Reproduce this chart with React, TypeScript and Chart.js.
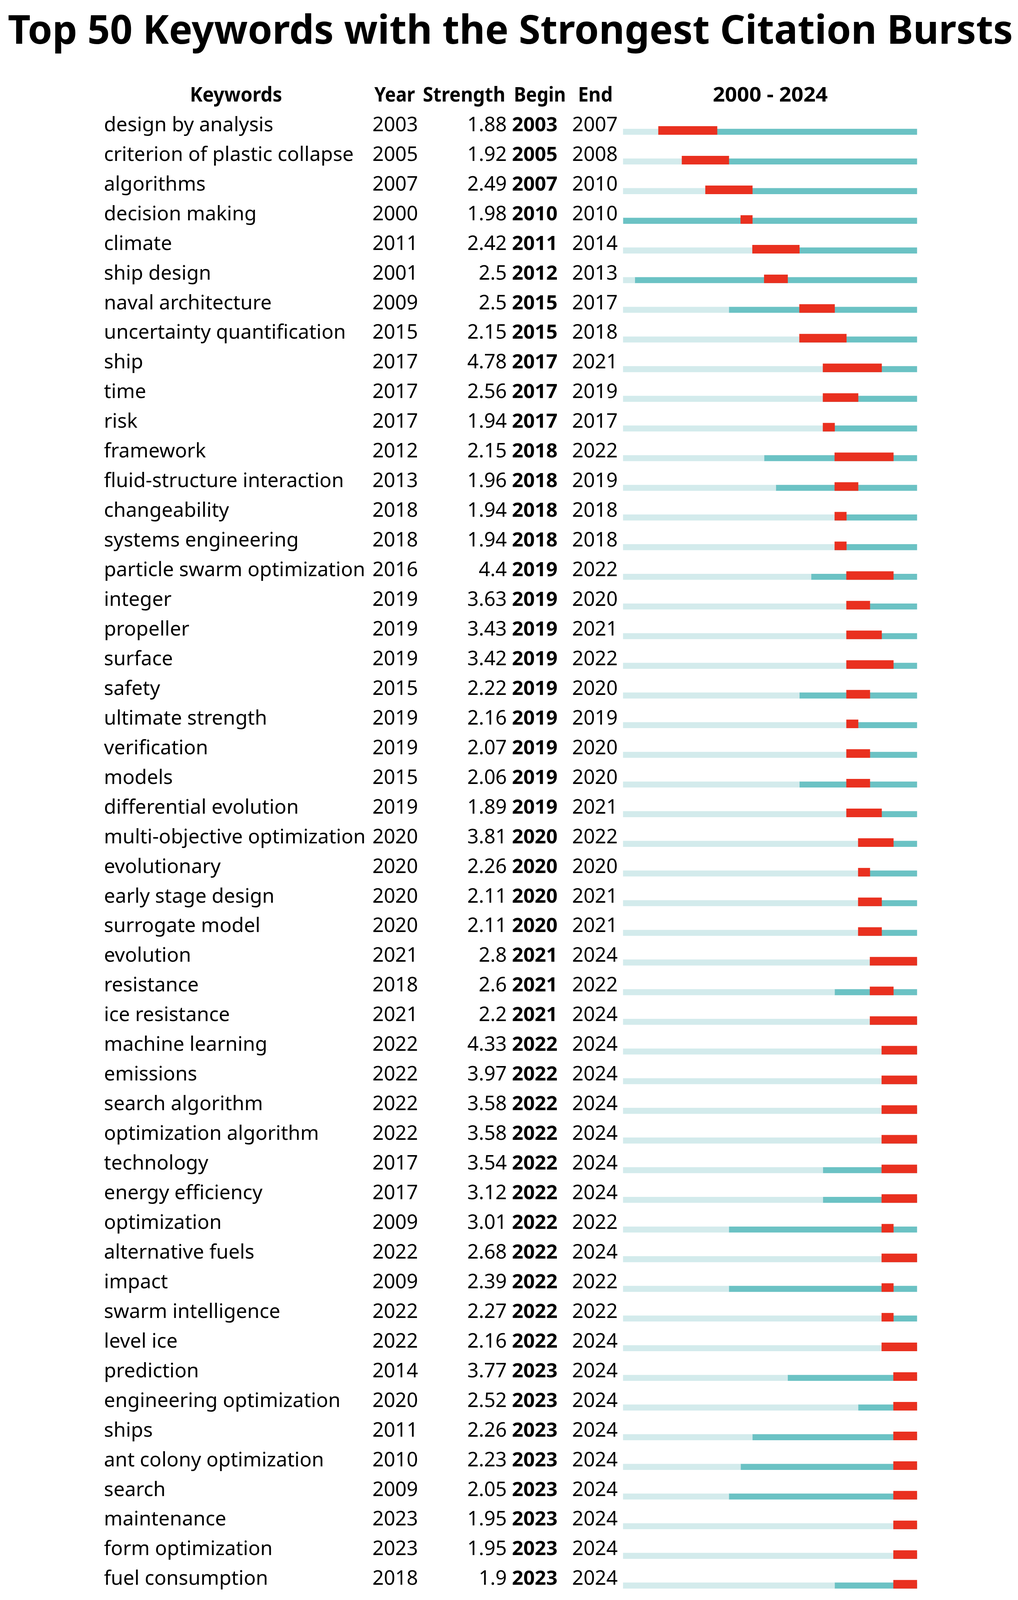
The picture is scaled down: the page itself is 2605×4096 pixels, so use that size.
import React, { useEffect, useRef } from "react";
import { Chart, registerables } from "chart.js";
Chart.register(...registerables);

const TITLE = "Top 50 Keywords with the Strongest Citation Bursts";
const HEADERS = ["Keywords", "Year", "Strength", "Begin", "End", "2000 - 2024"];
const YEAR_MIN = 2000;
const YEAR_MAX = 2024;

const keywords = [
  "design by analysis",
  "criterion of plastic collapse",
  "algorithms",
  "decision making",
  "climate",
  "ship design",
  "naval architecture",
  "uncertainty quantification",
  "ship",
  "time",
  "risk",
  "framework",
  "fluid-structure interaction",
  "changeability",
  "systems engineering",
  "particle swarm optimization",
  "integer",
  "propeller",
  "surface",
  "safety",
  "ultimate strength",
  "verification",
  "models",
  "differential evolution",
  "multi-objective optimization",
  "evolutionary",
  "early stage design",
  "surrogate model",
  "evolution",
  "resistance",
  "ice resistance",
  "machine learning",
  "emissions",
  "search algorithm",
  "optimization algorithm",
  "technology",
  "energy efficiency",
  "optimization",
  "alternative fuels",
  "impact",
  "swarm intelligence",
  "level ice",
  "prediction",
  "engineering optimization",
  "ships",
  "ant colony optimization",
  "search",
  "maintenance",
  "form optimization",
  "fuel consumption",
];

const years = [
  2003, 2005, 2007, 2000, 2011, 2001, 2009, 2015, 2017, 2017,
  2017, 2012, 2013, 2018, 2018, 2016, 2019, 2019, 2019, 2015,
  2019, 2019, 2015, 2019, 2020, 2020, 2020, 2020, 2021, 2018,
  2021, 2022, 2022, 2022, 2022, 2017, 2017, 2009, 2022, 2009,
  2022, 2022, 2014, 2020, 2011, 2010, 2009, 2023, 2023, 2018,
];

const strengths = [
  1.88, 1.92, 2.49, 1.98, 2.42, 2.5, 2.5, 2.15, 4.78, 2.56,
  1.94, 2.15, 1.96, 1.94, 1.94, 4.4, 3.63, 3.43, 3.42, 2.22,
  2.16, 2.07, 2.06, 1.89, 3.81, 2.26, 2.11, 2.11, 2.8, 2.6,
  2.2, 4.33, 3.97, 3.58, 3.58, 3.54, 3.12, 3.01, 2.68, 2.39,
  2.27, 2.16, 3.77, 2.52, 2.26, 2.23, 2.05, 1.95, 1.95, 1.9,
];

const begins = [
  2003, 2005, 2007, 2010, 2011, 2012, 2015, 2015, 2017, 2017,
  2017, 2018, 2018, 2018, 2018, 2019, 2019, 2019, 2019, 2019,
  2019, 2019, 2019, 2019, 2020, 2020, 2020, 2020, 2021, 2021,
  2021, 2022, 2022, 2022, 2022, 2022, 2022, 2022, 2022, 2022,
  2022, 2022, 2023, 2023, 2023, 2023, 2023, 2023, 2023, 2023,
];

const ends = [
  2007, 2008, 2010, 2010, 2014, 2013, 2017, 2018, 2021, 2019,
  2017, 2022, 2019, 2018, 2018, 2022, 2020, 2021, 2022, 2020,
  2019, 2020, 2020, 2021, 2022, 2020, 2021, 2021, 2024, 2022,
  2024, 2024, 2024, 2024, 2024, 2024, 2024, 2022, 2024, 2022,
  2022, 2024, 2024, 2024, 2024, 2024, 2024, 2024, 2024, 2024,
];

const W = 2605;
const H = 4096;
const FONT = '"Noto Sans", "Open Sans", sans-serif';

function fitText(ctx: CanvasRenderingContext2D, text: string, left: number, y: number, width: number) {
  const w = ctx.measureText(text).width;
  ctx.save();
  ctx.textAlign = "left";
  ctx.translate(left, y);
  ctx.scale(width / w, 1);
  ctx.fillText(text, 0, 0);
  ctx.restore();
}

const textPlugin = {
  id: "burstText",
  beforeDatasetDraw(chart: any, args: any) {
    if (args.index === 0) {
      chart.ctx.save();
      chart.ctx.translate(0, -3.3);
    }
  },
  afterDatasetDraw(chart: any, args: any) {
    if (args.index === 0) chart.ctx.restore();
  },
  afterDraw(chart: any) {
    const ctx = chart.ctx as CanvasRenderingContext2D;
    const yScale = chart.scales.y;
    ctx.save();
    ctx.fillStyle = "#000";
    ctx.textBaseline = "alphabetic";

    // Title
    ctx.font = `bold 103px ${FONT}`;
    fitText(ctx, TITLE, 20, 112, 2572);

    // Headers
    const hy = 260;
    ctx.font = `bold 52px ${FONT}`;
    fitText(ctx, HEADERS[0], 486, hy, 236);
    fitText(ctx, HEADERS[1], 958, hy, 104);
    fitText(ctx, HEADERS[2], 1082, hy, 211);
    fitText(ctx, HEADERS[3], 1315, hy, 133);
    fitText(ctx, HEADERS[4], 1479, hy, 89);
    fitText(ctx, HEADERS[5], 1824, hy, 294);

    // Rows
    for (let i = 0; i < keywords.length; i++) {
      const y = yScale.getPixelForValue(i) - 1.6;
      ctx.font = `51px ${FONT}`;
      ctx.textAlign = "left";
      ctx.fillText(keywords[i], 266, y);
      ctx.fillText(String(years[i]), 953, y);
      ctx.textAlign = "right";
      ctx.fillText(String(strengths[i]), 1297, y);
      ctx.textAlign = "left";
      ctx.font = `bold 51px ${FONT}`;
      ctx.fillText(String(begins[i]), 1310, y);
      ctx.font = `51px ${FONT}`;
      ctx.fillText(String(ends[i]), 1464, y);
    }
    ctx.restore();
  },
};

export default function App() {
  const ref = useRef<HTMLCanvasElement | null>(null);
  useEffect(() => {
    document.body.style.margin = "0";
    const canvas = ref.current;
    if (!canvas) return;
    const chart = new Chart(canvas, {
      type: "bar",
      data: {
        labels: keywords,
        datasets: [
          {
            label: "burst",
            data: begins.map((b, i) => [b, ends[i] + 1]) as any,
            backgroundColor: "#E9301F",
            barThickness: 21.3,
            grouped: false,
            clip: false as any,
            borderSkipped: false,
          },
          {
            label: "before",
            data: years.map((y) => [YEAR_MIN, y]) as any,
            backgroundColor: "#D3EBEC",
            barThickness: 14.7,
            grouped: false,
            clip: false as any,
            borderSkipped: false,
          },
          {
            label: "active",
            data: years.map((y) => [y, YEAR_MAX + 1]) as any,
            backgroundColor: "#6BC2C4",
            barThickness: 14.7,
            grouped: false,
            clip: false as any,
            borderSkipped: false,
          },
        ],
      },
      options: {
        indexAxis: "y",
        responsive: false,
        animation: false,
        maintainAspectRatio: false,
        layout: {
          padding: { left: 1594.6, right: 258.6, top: 337.4, bottom: 37 },
        },
        plugins: {
          legend: { display: false },
          tooltip: { enabled: false },
          title: { display: false },
        },
        scales: {
          x: {
            type: "linear",
            min: YEAR_MIN,
            max: YEAR_MAX + 1,
            display: false,
          },
          y: {
            type: "category",
            offset: false,
            display: false,
          },
        },
      },
      plugins: [textPlugin],
    });
    return () => chart.destroy();
  }, []);
  return (
    <div style={{ position: "absolute", left: 0, top: 0, width: W, height: H, background: "#fff" }}>
      <canvas ref={ref} width={W} height={H} style={{ display: "block", width: W, height: H }} />
    </div>
  );
}
